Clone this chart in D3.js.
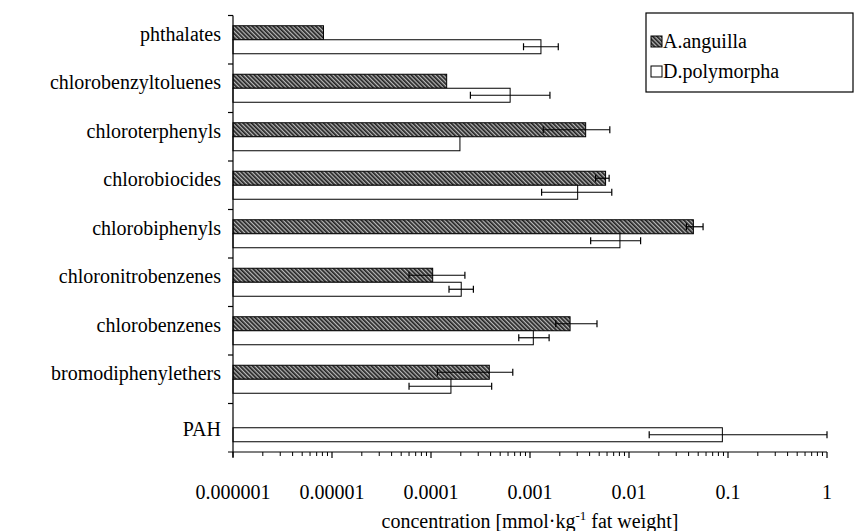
<!DOCTYPE html>
<html>
<head>
<meta charset="utf-8">
<script src="https://cdn.jsdelivr.net/npm/d3@7"></script>
<style>
  html, body { margin: 0; padding: 0; background: #fff; }
  svg { display: block; }
  text { font-family: "Liberation Serif", "Times New Roman", serif; fill: #000; }
</style>
</head>
<body>
<script>
const categories = ["phthalates","chlorobenzyltoluenes","chloroterphenyls","chlorobiocides","chlorobiphenyls","chloronitrobenzenes","chlorobenzenes","bromodiphenylethers","PAH"];
const seriesNames = ["A.anguilla", "D.polymorpha"];
const anguilla     = [8.2e-6, 1.44e-4, 3.65e-3, 5.8e-3, 0.0447, 1.04e-4, 2.54e-3, 3.88e-4, null];
const anguillaLow  = [null,   null,    1.36e-3, 4.6e-3, 0.038,  6.0e-5,  1.82e-3, 1.16e-4, null];
const anguillaHigh = [null,   null,    6.4e-3,  6.3e-3, 0.056,  2.2e-4,  4.75e-3, 6.7e-4,  null];
const polymorpha     = [1.29e-3, 6.3e-4,  1.96e-4, 3.03e-3, 8.1e-3, 2.02e-4, 1.08e-3, 1.59e-4, 0.0877];
const polymorphaLow  = [8.6e-4,  2.5e-4,  null,    1.31e-3, 4.1e-3, 1.52e-4, 7.7e-4,  6.0e-5,  0.016];
const polymorphaHigh = [1.93e-3, 1.59e-3, null,    6.7e-3,  0.0131, 2.68e-4, 1.56e-3, 4.1e-4,  1.0];
const tickValues = [1e-6, 1e-5, 1e-4, 1e-3, 1e-2, 1e-1, 1];
const tickLabels = ["0.000001", "0.00001", "0.0001", "0.001", "0.01", "0.1", "1"];

const W = 856, H = 531;
const FS = 20;
const svg = d3.select("body").append("svg").attr("width", W).attr("height", H);

const defs = svg.append("defs");
const pat = defs.append("pattern").attr("id", "hatch").attr("patternUnits", "userSpaceOnUse")
  .attr("width", 3).attr("height", 3).attr("patternTransform", "rotate(-45)");
pat.append("rect").attr("width", 3).attr("height", 3).attr("fill", "#b8b8b8");
pat.append("rect").attr("width", 1.7).attr("height", 3).attr("fill", "#222");

const x = d3.scaleLog().domain([1e-6, 1]).range([233, 827]);
const y = d3.scaleBand().domain(categories).range([15.5, 452]).padding(0);
const barH = 14;

const g = svg.append("g");
const rows = categories.map((c, i) => ({c, i}));

function drawSeries(vals, offset, fill) {
  rows.forEach(({c, i}) => {
    const v = vals[i];
    if (v == null) return;
    const top = y(c) + y.bandwidth() / 2 + offset;
    g.append("rect")
      .attr("x", x(1e-6)).attr("y", top)
      .attr("width", x(v) - x(1e-6)).attr("height", barH)
      .attr("fill", fill).attr("stroke", "#000").attr("stroke-width", 1);
  });
}
drawSeries(anguilla, -barH, "url(#hatch)");
drawSeries(polymorpha, 0, "#fff");

function drawErr(lo, hi, offset) {
  rows.forEach(({c, i}) => {
    if (lo[i] == null || hi[i] == null) return;
    const ym = y(c) + y.bandwidth() / 2 + offset + barH / 2;
    g.append("line").attr("x1", x(lo[i])).attr("x2", x(hi[i])).attr("y1", ym).attr("y2", ym)
      .attr("stroke", "#000").attr("stroke-width", 1.2);
    [lo[i], hi[i]].forEach(v => {
      g.append("line").attr("x1", x(v)).attr("x2", x(v)).attr("y1", ym - 3.5).attr("y2", ym + 3.5)
        .attr("stroke", "#000").attr("stroke-width", 1.2);
    });
  });
}
drawErr(anguillaLow, anguillaHigh, -barH);
drawErr(polymorphaLow, polymorphaHigh, 0);

// y axis
const ax = svg.append("g");
ax.append("line").attr("x1", 233).attr("x2", 233).attr("y1", 15.5).attr("y2", 457)
  .attr("stroke", "#000").attr("stroke-width", 1.2);
categories.forEach((c, i) => {
  const yb = y(c);
  ax.append("line").attr("x1", 228).attr("x2", 233).attr("y1", yb).attr("y2", yb)
    .attr("stroke", "#000").attr("stroke-width", 1.2);
  // labels sit at the band centre; the lone PAH bar is in the lower half, label follows it
  const shift = (anguilla[i] == null) ? 8 : 1;
  ax.append("text").attr("x", 221).attr("y", yb + y.bandwidth() / 2 + shift)
    .attr("text-anchor", "end").attr("font-size", FS).text(c);
});

// x axis
ax.append("line").attr("x1", 228).attr("x2", 827).attr("y1", 452).attr("y2", 452)
  .attr("stroke", "#000").attr("stroke-width", 1.2);
const minor = [];
for (let e = -6; e < 0; e++) for (let k = 2; k <= 9; k++) minor.push(k * Math.pow(10, e));
minor.forEach(v => {
  ax.append("line").attr("x1", x(v)).attr("x2", x(v)).attr("y1", 452).attr("y2", 456)
    .attr("stroke", "#000").attr("stroke-width", 1);
});
tickValues.forEach((v, i) => {
  ax.append("line").attr("x1", x(v)).attr("x2", x(v)).attr("y1", 452).attr("y2", 458)
    .attr("stroke", "#000").attr("stroke-width", 1.2);
  ax.append("text").attr("x", x(v)).attr("y", 499).attr("text-anchor", "middle")
    .attr("font-size", FS).text(tickLabels[i]);
});
const title = ax.append("text").attr("x", 530).attr("y", 528).attr("text-anchor", "middle").attr("font-size", FS);
title.append("tspan").text("concentration [mmol·kg");
title.append("tspan").attr("dy", -8).attr("font-size", 13).text("-1");
title.append("tspan").attr("dy", 8).text(" fat weight]");

// legend
const lg = svg.append("g");
lg.append("rect").attr("x", 646).attr("y", 13).attr("width", 207).attr("height", 79)
  .attr("fill", "#fff").attr("stroke", "#000").attr("stroke-width", 1.2);
seriesNames.forEach((s, i) => {
  const yy = 48 + i * 30;
  lg.append("rect").attr("x", 651).attr("y", yy - 12).attr("width", 11).attr("height", 11)
    .attr("fill", i === 0 ? "url(#hatch)" : "#fff").attr("stroke", "#000").attr("stroke-width", 1);
  lg.append("text").attr("x", 663).attr("y", yy).attr("font-size", FS).text(s);
});
</script>
</body>
</html>
